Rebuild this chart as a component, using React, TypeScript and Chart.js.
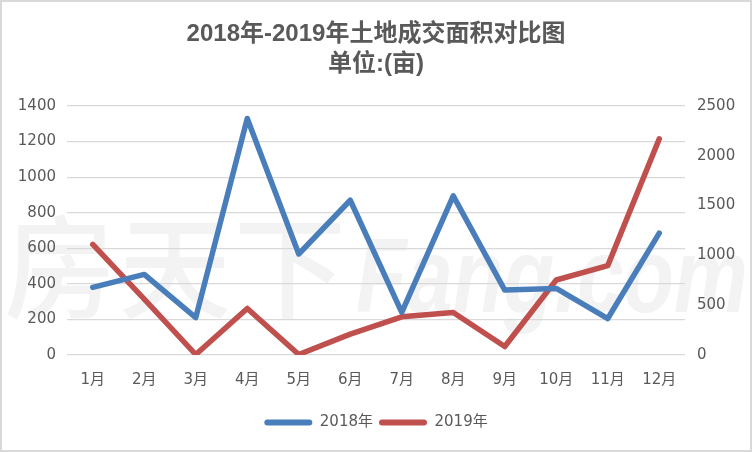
import React, { useEffect, useRef } from "react";
import { Chart, registerables } from "chart.js";

Chart.register(...registerables);

const months = ["1月", "2月", "3月", "4月", "5月", "6月", "7月", "8月", "9月", "10月", "11月", "12月"];
const area2018 = [380, 453, 210, 1330, 568, 870, 240, 895, 365, 374, 205, 685];
const area2019 = [1110, 560, 5, 467, 5, 210, 383, 426, 85, 753, 897, 2170];
const leftTicks = [0, 200, 400, 600, 800, 1000, 1200, 1400];
const rightTicks = [0, 500, 1000, 1500, 2000, 2500];
const titleLines = ["2018年-2019年土地成交面积对比图", "单位:(亩)"];
const seriesNames = ["2018年", "2019年"];

const BLUE = "#4a7ebb";
const RED = "#c0504d";
const TEXT = "#595959";
const GRID = "#d9d9d9";
const FONT = "'DejaVu Sans', 'Noto Sans CJK SC', sans-serif";
const TITLE_FONT = "'Liberation Sans', 'Noto Sans CJK SC', sans-serif";

const watermark = {
  id: "watermark",
  beforeDraw(chart: any) {
    const ctx = chart.ctx;
    ctx.save();
    ctx.fillStyle = "#f3f3f3";
    ctx.textBaseline = "alphabetic";
    ctx.font = "500 112px 'Noto Sans CJK SC', sans-serif";
    const chars = ["房", "天", "下"];
    const xs = [2, 117, 232];
    chars.forEach((c, i) => ctx.fillText(c, xs[i], 308));
    ctx.font = "italic bold 105px 'Liberation Sans', sans-serif";
    ctx.translate(354, 310);
    ctx.scale(0.79, 1);
    ctx.fillText("Fang.com", 0, 0);
    ctx.restore();
  },
};

export default function App() {
  const ref = useRef<HTMLCanvasElement | null>(null);
  useEffect(() => {
    document.body.style.margin = "0";
    if (!ref.current) return;
    const chart = new Chart(ref.current, {
      type: "line",
      data: {
        labels: months,
        datasets: [
          {
            label: seriesNames[0],
            data: area2018,
            borderColor: BLUE,
            backgroundColor: BLUE,
            borderWidth: 5.5,
            pointRadius: 0,
            tension: 0,
            borderJoinStyle: "round",
            borderCapStyle: "round",
            yAxisID: "y",
          },
          {
            label: seriesNames[1],
            data: area2019,
            borderColor: RED,
            backgroundColor: RED,
            borderWidth: 5.5,
            pointRadius: 0,
            tension: 0,
            borderJoinStyle: "round",
            borderCapStyle: "round",
            yAxisID: "y1",
          },
        ],
      },
      options: {
        animation: false,
        responsive: false,
        maintainAspectRatio: false,
        layout: { padding: { left: 0, right: 0, top: 0, bottom: 10 } },
        plugins: {
          title: {
            display: true,
            text: titleLines,
            color: TEXT,
            font: { size: 24, weight: "bold", family: TITLE_FONT, lineHeight: 1.25 },
            padding: { top: 17, bottom: 27 },
          },
          legend: {
            position: "bottom",
            labels: {
              color: TEXT,
              font: { size: 15, family: FONT },
              boxWidth: 48,
              boxHeight: 6,
              padding: 6,
              useBorderRadius: true,
              borderRadius: 3,
              generateLabels: (chart: any) =>
                chart.data.datasets.map((ds: any, i: number) => ({
                  text: ds.label,
                  fillStyle: ds.borderColor,
                  strokeStyle: ds.borderColor,
                  lineWidth: 0,
                  fontColor: TEXT,
                  datasetIndex: i,
                  hidden: false,
                  borderRadius: 3,
                })),
            },
          },
          tooltip: { enabled: false },
        },
        scales: {
          x: {
            offset: true,
            grid: { display: false },
            border: { display: false },
            ticks: { color: TEXT, font: { size: 15, family: FONT }, padding: 8, maxRotation: 0 },
            afterFit: (s: any) => {
              s.height = 54;
            },
          },
          y: {
            position: "left",
            min: 0,
            max: 1400,
            afterBuildTicks: (s: any) => {
              s.ticks = leftTicks.map((v) => ({ value: v }));
            },
            grid: { color: GRID, lineWidth: 1.2, drawTicks: false },
            border: { display: false },
            ticks: {
              color: TEXT,
              font: { size: 15, family: FONT },
              padding: 11,
              callback: (v: any) => String(v),
            },
            afterFit: (s: any) => {
              s.width = 65;
            },
          },
          y1: {
            position: "right",
            min: 0,
            max: 2500,
            afterBuildTicks: (s: any) => {
              s.ticks = rightTicks.map((v) => ({ value: v }));
            },
            grid: { display: false, drawTicks: false },
            border: { display: false },
            ticks: {
              color: TEXT,
              font: { size: 15, family: FONT },
              padding: 12,
              callback: (v: any) => String(v),
            },
            afterFit: (s: any) => {
              s.width = 65;
            },
          },
        },
      },
      plugins: [watermark],
    } as any);
    return () => chart.destroy();
  }, []);
  return (
    <div
      style={{
        width: 752,
        height: 452,
        boxSizing: "border-box",
        border: "2px solid #d9d9d9",
        background: "#fff",
        overflow: "hidden",
      }}
    >
      <canvas ref={ref} width={748} height={448} style={{ display: "block", width: 748, height: 448 }} />
    </div>
  );
}
